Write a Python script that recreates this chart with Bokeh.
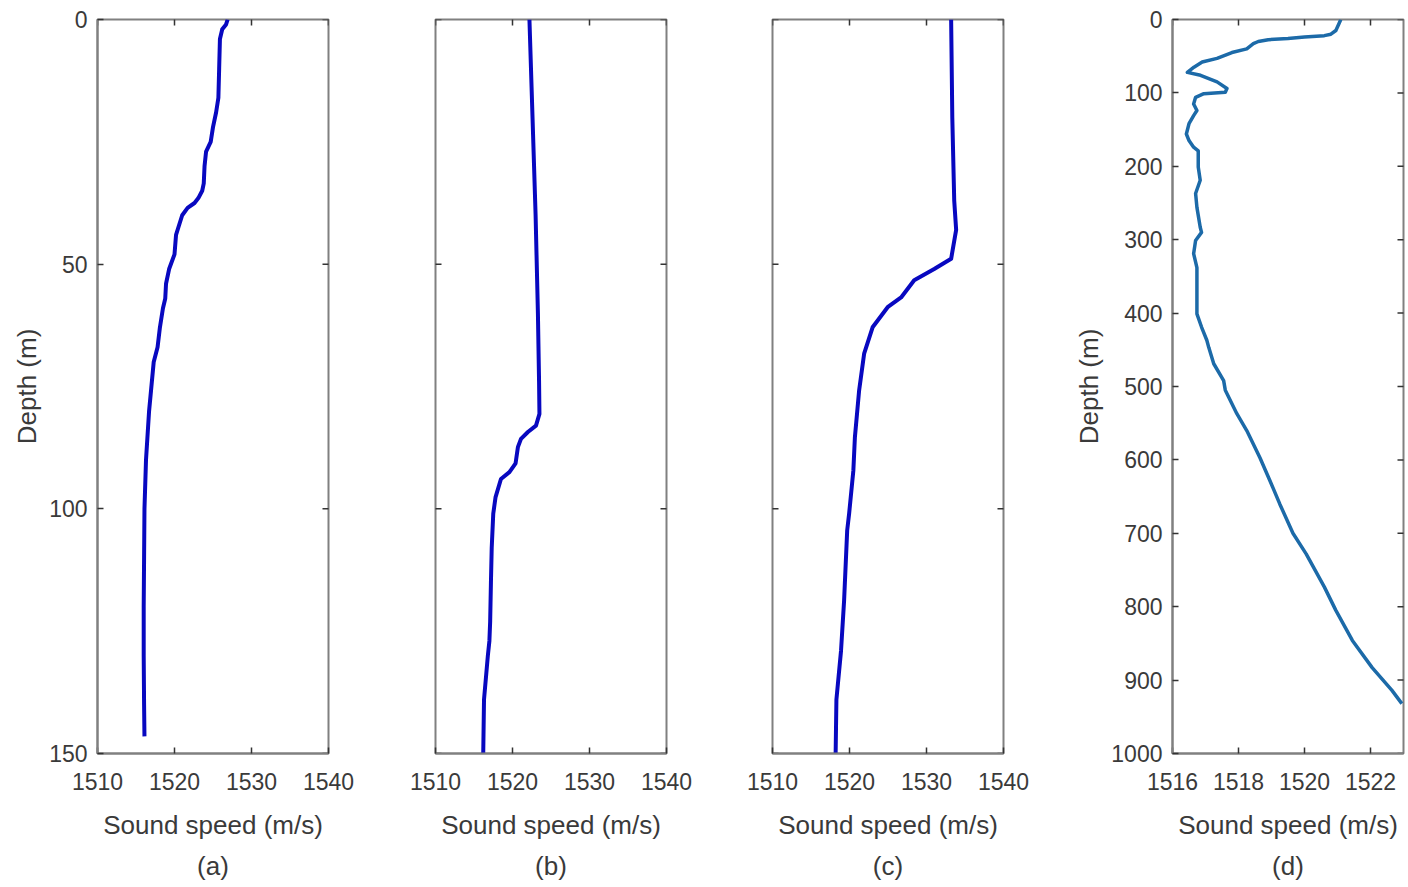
import math
from bokeh.plotting import figure
from bokeh.layouts import row
from bokeh.models import Range1d, FixedTicker, Title
from bokeh.embed import file_html
from bokeh.resources import INLINE

# ---------------- data ----------------
depth_a = [0, 1, 2, 4, 10, 16, 19, 22, 25, 27, 30, 33.5, 35, 36.5, 37.5, 38.5, 40, 42, 44,
           48, 51, 54, 57, 59, 63, 67, 70, 75, 80, 90, 100, 110, 120, 130, 140, 146.5]
speed_a = [1526.9, 1526.7, 1526.2, 1525.9, 1525.8, 1525.7, 1525.4, 1525.0, 1524.7, 1524.1,
           1523.9, 1523.8, 1523.6, 1523.1, 1522.6, 1521.7, 1521.0, 1520.6, 1520.2, 1520.0,
           1519.3, 1518.9, 1518.8, 1518.5, 1518.1, 1517.8, 1517.3, 1517.0, 1516.7, 1516.3,
           1516.1, 1516.05, 1516.0, 1516.0, 1516.05, 1516.1]

depth_b = [0, 20, 40, 60, 74, 80.6, 83, 84.3, 85.7, 87.4, 90.7, 92.5, 93.9, 97.6, 101, 108,
           115, 123, 127, 130, 139, 150]
speed_b = [1522.2, 1522.6, 1523.0, 1523.3, 1523.45, 1523.5, 1523.05, 1522.0, 1521.1, 1520.7,
           1520.4, 1519.6, 1518.5, 1517.8, 1517.5, 1517.3, 1517.2, 1517.1, 1517.0, 1516.8,
           1516.3, 1516.2]

depth_c = [0, 20, 37, 43, 48.9, 51, 53.3, 56.8, 58.8, 62.9, 68.3, 75.8, 85.4, 92.2, 101,
           104.4, 118.7, 129, 139, 150]
speed_c = [1533.2, 1533.35, 1533.6, 1533.85, 1533.2, 1531.0, 1528.4, 1526.7, 1524.95, 1523.0,
           1521.9, 1521.25, 1520.7, 1520.5, 1519.95, 1519.7, 1519.3, 1518.9, 1518.3, 1518.2]

depth_d = [0, 5, 15, 20, 22, 24, 26, 27.5, 30, 33, 40, 45, 53, 58, 65, 72, 76, 85, 94, 99,
           101, 106, 115, 124, 131, 142, 156, 165, 174, 179, 201, 219, 237, 256, 283, 290,
           301, 319, 338, 373, 401, 419, 437, 447, 469, 492, 505, 537, 560, 597, 628, 660,
           700, 728, 773, 805, 846, 883, 914, 932]
speed_d = [1521.1, 1521.05, 1520.95, 1520.8, 1520.6, 1520.0, 1519.5, 1518.9, 1518.6, 1518.45,
           1518.25, 1517.8, 1517.35, 1516.9, 1516.65, 1516.45, 1516.85, 1517.35, 1517.65,
           1517.6, 1516.95, 1516.7, 1516.64, 1516.74, 1516.64, 1516.5, 1516.42, 1516.5,
           1516.64, 1516.78, 1516.78, 1516.84, 1516.7, 1516.74, 1516.84, 1516.88, 1516.7,
           1516.64, 1516.74, 1516.74, 1516.74, 1516.88, 1517.04, 1517.1, 1517.25, 1517.55,
           1517.6, 1517.95, 1518.25, 1518.65, 1518.95, 1519.25, 1519.65, 1520.05, 1520.6,
           1520.95, 1521.45, 1522.05, 1522.65, 1522.95]

xticks_abc = [1510, 1520, 1530, 1540]
yticks_abc = [0, 50, 100, 150]
xticks_d = [1516, 1518, 1520, 1522]
yticks_d = [0, 100, 200, 300, 400, 500, 600, 700, 800, 900, 1000]

x_label = "Sound speed (m/s)"
y_label = "Depth (m)"
captions = ["(a)", "(b)", "(c)", "(d)"]

# ---------------- style ----------------
FONT = "Liberation Sans"
TXT = "#3a3a3a"
BOX = "#808080"
TICKC = "#333333"
TICK_FS = "23px"
LAB_FS = "26px"


def style_axis(ax, ticks, label_text, tick_standoff, label_standoff):
    ax.ticker = FixedTicker(ticks=ticks)
    ax.axis_line_color = BOX
    ax.axis_line_width = 2
    ax.major_tick_line_color = TICKC
    ax.major_tick_line_width = 1.5
    ax.major_tick_in = 6
    ax.major_tick_out = 0
    ax.minor_tick_line_color = None
    ax.major_label_text_font = FONT
    ax.major_label_text_color = TXT
    ax.major_label_text_font_size = TICK_FS
    ax.major_label_standoff = tick_standoff
    ax.axis_label = label_text
    ax.axis_label_text_font = FONT
    ax.axis_label_text_font_size = LAB_FS
    ax.axis_label_text_font_style = "normal"
    ax.axis_label_text_color = TXT
    ax.axis_label_standoff = label_standoff


def make_panel(xs, ys, xr, yr, xt, yt, ylab, cap, color, lw, lb, rb):
    p = figure(frame_width=231, frame_height=734,
               x_range=Range1d(xr[0], xr[1]), y_range=Range1d(yr[1], yr[0]),
               output_backend="svg", toolbar_location=None,
               min_border_left=lb, min_border_right=rb,
               min_border_top=19, min_border_bottom=134)
    p.grid.visible = False
    p.outline_line_color = BOX
    p.outline_line_width = 2
    p.background_fill_color = "white"
    p.border_fill_color = "white"
    style_axis(p.xaxis[0], xt, x_label, 19, 17)
    if ylab:
        style_axis(p.yaxis[0], yt, y_label, 10, 4)
    else:
        p.yaxis.visible = False
        # left ticks drawn inward from the left frame edge
        p.scatter([xr[0]] * len(yt), yt, marker="dash", size=12, angle=0,
                  line_color=TICKC, line_width=1.5)
    # mirror ticks (inward) on top and right edges
    p.scatter(xt, [yr[0]] * len(xt), marker="dash", size=12, angle=math.pi / 2,
              line_color=TICKC, line_width=1.5)
    p.scatter([xr[1]] * len(yt), yt, marker="dash", size=12, angle=0,
              line_color=TICKC, line_width=1.5)
    p.line(xs, ys, line_color=color, line_width=lw, line_join="round")
    p.add_layout(Title(text=cap, align="center", text_font=FONT, text_font_size=LAB_FS,
                       text_font_style="normal", text_color=TXT, standoff=13), "below")
    return p


BLUE = "#0808c0"
pa = make_panel(speed_a, depth_a, (1510, 1540), (0, 150), xticks_abc, yticks_abc, True,
                captions[0], BLUE, 4, 97, 53)
pb = make_panel(speed_b, depth_b, (1510, 1540), (0, 150), xticks_abc, yticks_abc, False,
                captions[1], BLUE, 4, 54, 53)
pc = make_panel(speed_c, depth_c, (1510, 1540), (0, 150), xticks_abc, yticks_abc, False,
                captions[2], BLUE, 4, 53, 53)
pd = make_panel(speed_d, depth_d, (1516, 1523), (0, 1000), xticks_d, yticks_d, True,
                captions[3], "#1c6aa8", 3.5, 116, 5)

layout = row(pa, pb, pc, pd, spacing=0)
open("out.html", "w").write(file_html(layout, INLINE))
